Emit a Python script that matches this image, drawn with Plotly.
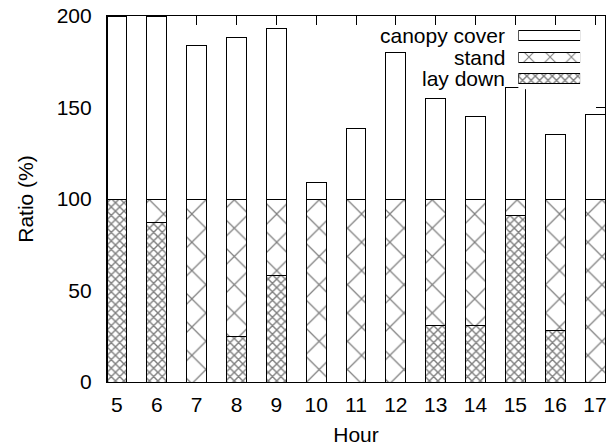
import plotly.graph_objects as go

hours = [5, 6, 7, 8, 9, 10, 11, 12, 13, 14, 15, 16, 17]
lay_down = [100, 87, 0, 25, 58, 0, 0, 0, 31, 31, 91, 28, 0]
stand = [0, 13, 100, 75, 42, 100, 100, 100, 69, 69, 9, 72, 100]
canopy_cover = [100, 100, 84, 88, 93, 9, 38.5, 80, 55, 45, 61, 35, 46]
y_ticks = [0, 50, 100, 150, 200]
legend_names = ["canopy cover", "stand", "lay down"]

FONT = "Liberation Sans, Arial, sans-serif"
FS = 21
line = dict(color="black", width=1)
pat_stand = dict(shape="x", size=20, solidity=0.12, fgcolor="black", bgcolor="white", fillmode="overlay")
pat_lay = dict(shape="x", size=6, solidity=0.42, fgcolor="black", bgcolor="white", fillmode="overlay")

fig = go.Figure()
fig.add_bar(x=hours, y=lay_down, width=0.5, name="lay down",
            marker=dict(color="white", line=line, pattern=pat_lay))
fig.add_bar(x=hours, y=stand, width=0.5, name="stand",
            marker=dict(color="white", line=line, pattern=pat_stand))
fig.add_bar(x=hours, y=canopy_cover, width=0.5, name="canopy cover",
            marker=dict(color="white", line=line))

# legend samples on an overlay axis (samples right of the text, as in gnuplot)
pat_stand_leg = dict(pat_stand, size=15, solidity=0.14)
patterns = [dict(), pat_stand_leg, pat_lay]
for name, pat in zip(legend_names, patterns):
    fig.add_bar(x=[1], y=[name], orientation="h", width=0.48, xaxis="x2", yaxis="y2",
                showlegend=False, hoverinfo="skip",
                marker=dict(color="white", line=line, pattern=pat))
for i, name in enumerate(legend_names):
    fig.add_annotation(text=name, xref="paper", yref="y2", x=0.803, y=i,
                       xanchor="right", yanchor="middle", showarrow=False,
                       font=dict(family=FONT, size=FS, color="black"))

fig.update_layout(
    width=608, height=447,
    margin=dict(l=107, r=1, t=16, b=65),
    paper_bgcolor="white", plot_bgcolor="white",
    barmode="stack", showlegend=False,
    font=dict(family=FONT, size=FS, color="black"),
    xaxis=dict(range=[4.75, 17.25], tickvals=hours, ticktext=[str(h) for h in hours],
               ticks="inside", ticklen=9, tickcolor="black", showline=True, linecolor="black",
               linewidth=1.2, mirror="ticks", showgrid=False, zeroline=False,
               layer="below traces", ticklabelstandoff=4, ticklabeloverflow="allow",
               title=dict(text="Hour", standoff=12, font=dict(size=FS))),
    yaxis=dict(range=[0, 200], tickvals=y_ticks, ticks="inside", ticklen=9, tickcolor="black",
               showline=True, linecolor="black", linewidth=1.2, mirror="ticks", showgrid=False,
               zeroline=False, layer="below traces", ticklabelstandoff=10,
               title=dict(text="Ratio (%)", standoff=17, font=dict(size=FS))),
    xaxis2=dict(domain=[0.826, 0.95], range=[0, 1], visible=False, anchor="y2"),
    yaxis2=dict(domain=[0.8, 0.975], visible=False, anchor="x2", type="category",
                categoryorder="array", categoryarray=legend_names, range=[2.5, -0.5]),
)

fig.write_html("out.html")
